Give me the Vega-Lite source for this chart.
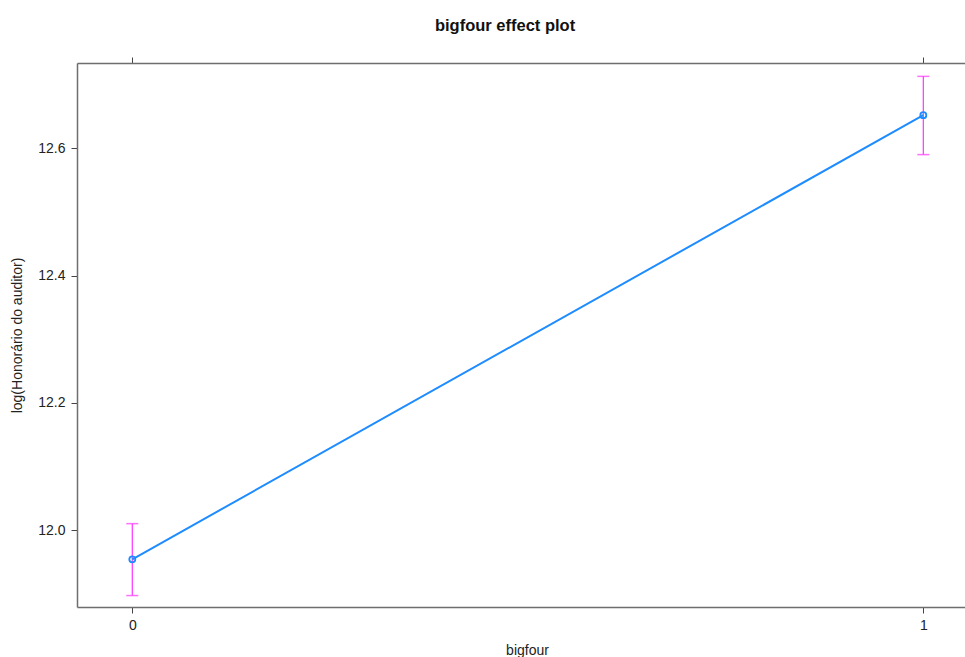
{
  "$schema": "https://vega.github.io/schema/vega-lite/v6.json",
  "autosize": {"type": "none"},
  "width": 888,
  "height": 544,
  "padding": {"left": 77, "top": 63, "right": 0, "bottom": 50},
  "background": "white",
  "title": {
    "text": "bigfour effect plot",
    "font": "Liberation Sans",
    "fontSize": 16.5,
    "fontWeight": "bold",
    "color": "#111111",
    "anchor": "middle",
    "dx": -16,
    "offset": 22
  },
  "config": {
    "view": {"stroke": null},
    "axis": {
      "labelFont": "Liberation Sans",
      "titleFont": "Liberation Sans",
      "labelFontSize": 14,
      "titleFontSize": 14,
      "labelColor": "#222222",
      "titleColor": "#222222",
      "titleFontWeight": "normal",
      "domainColor": "#6e6e6e",
      "domainWidth": 1.5,
      "tickColor": "#444444",
      "tickSize": 6,
      "grid": false
    }
  },
  "data": {
    "values": [
      {"bigfour": 0, "fit": 11.954, "lower": 11.897, "upper": 12.010},
      {"bigfour": 1, "fit": 12.652, "lower": 12.590, "upper": 12.713}
    ]
  },
  "layer": [
    {
      "mark": {"type": "errorbar", "color": "#ff33ff", "thickness": 1.2, "ticks": {"size": 12, "color": "#ff33ff", "thickness": 1.5}},
      "encoding": {
        "x": {
          "field": "bigfour",
          "type": "quantitative",
          "scale": {"domain": [-0.0699, 1.0527], "nice": false, "zero": false},
          "axis": {
            "orient": "bottom",
            "title": "bigfour",
            "values": [0, 1],
            "format": "d",
            "labelPadding": 5,
            "titleX": 450,
            "titlePadding": 11
          }
        },
        "y": {
          "field": "lower",
          "type": "quantitative",
          "scale": {"domain": [11.879, 12.734], "nice": false, "zero": false},
          "axis": {
            "title": "log(Honorário do auditor)",
            "values": [12.0, 12.2, 12.4, 12.6],
            "format": ".1f",
            "labelPadding": 6,
            "titlePadding": 13
          }
        },
        "y2": {"field": "upper"}
      }
    },
    {
      "mark": {"type": "line", "color": "#1e8cff", "strokeWidth": 2},
      "encoding": {
        "x": {"field": "bigfour", "type": "quantitative", "axis": null},
        "y": {"field": "fit", "type": "quantitative"}
      }
    },
    {
      "mark": {"type": "point", "shape": "circle", "filled": false, "color": "#1e8cff", "size": 36, "strokeWidth": 1.8, "opacity": 1},
      "encoding": {
        "x": {"field": "bigfour", "type": "quantitative", "axis": null},
        "y": {"field": "fit", "type": "quantitative"}
      }
    },
    {
      "mark": {"type": "point", "opacity": 0},
      "encoding": {
        "x": {
          "field": "bigfour",
          "type": "quantitative",
          "axis": {"orient": "top", "title": null, "values": [0, 1], "labels": false, "tickSize": 6, "domain": true}
        },
        "y": {"field": "fit", "type": "quantitative"}
      }
    }
  ],
  "resolve": {"axis": {"x": "independent"}}
}
